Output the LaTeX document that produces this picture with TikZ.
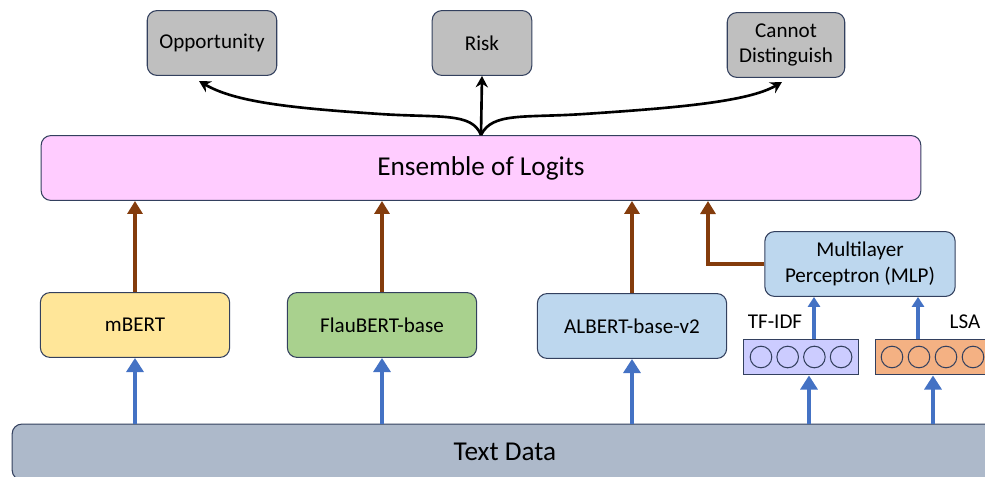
\documentclass[tikz,border=0pt]{standalone}
\usepackage{fontspec}
\setmainfont{Carlito}
\usetikzlibrary{arrows.meta}
\definecolor{boxline}{HTML}{33405E}
\definecolor{outgray}{HTML}{BFBFBF}
\definecolor{enspink}{HTML}{FFCCFF}
\definecolor{bertyellow}{HTML}{FFE699}
\definecolor{flaugreen}{HTML}{A9D18E}
\definecolor{albertblue}{HTML}{BDD7EE}
\definecolor{tfidfviolet}{HTML}{CCCCFF}
\definecolor{lsaorange}{HTML}{F4B183}
\definecolor{textgray}{HTML}{ADB9CA}
\definecolor{logitbrown}{HTML}{843C0C}
\definecolor{feedblue}{HTML}{4472C4}
\begin{document}
\begin{tikzpicture}[x=0.02cm, y=-0.02cm,
                every node/.style = {draw=boxline, line width=0.6pt, rounded corners=5.5pt,
                    align=center, inner sep=0pt, font=\fontsize{12}{14.5}\selectfont},
                outbox/.style = {fill=outgray, minimum height=36.9pt},
                modelbox/.style = {minimum width=107.7pt, minimum height=36.9pt},
                bigbox/.style = {minimum height=36.9pt, font=\fontsize{15.5}{18}\selectfont},
                vecbox/.style = {rounded corners=0pt, minimum width=65.8pt, minimum height=20.4pt},
                unit/.style = {circle, rounded corners=0pt, minimum size=12.3pt},
                tag/.style = {draw=none},
                vote/.style = {draw=black, line width=1.5pt, -{Stealth[length=6.5pt, width=7pt]}},
                logit/.style = {draw=logitbrown, line width=2.3pt, -{Triangle[length=7.4pt, width=8.5pt]}},
                feed/.style = {draw=feedblue, line width=2.8pt, -{Triangle[length=8pt, width=9.6pt]}},
                thinfeed/.style = {draw=feedblue, line width=1.8pt, -{Triangle[length=5.6pt, width=6.8pt]}}
            ]
            \clip (0,0) rectangle (985,477);
            \useasboundingbox (0,0) rectangle (985,477);

            % outputs
            \node[outbox, minimum width=73.7pt] (opp) at (212,43) {Opportunity};
            \node[outbox, minimum width=56.7pt] (risk) at (482,43) {Risk};
            \node[outbox, minimum width=66.9pt] (cannot) at (786,45) {Cannot\\Distinguish};

            % ensemble
            \node[bigbox, fill=enspink, minimum width=500.7pt] (ens) at (481,168) {Ensemble of Logits};

            % models
            \node[modelbox, fill=bertyellow] (mbert) at (135,325) {mBERT};
            \node[modelbox, fill=flaugreen] (flau) at (382,325) {FlauBERT-base};
            \node[modelbox, fill=albertblue] (albert) at (632,326) {ALBERT-base-v2};
            \node[modelbox, fill=albertblue, minimum width=108.3pt] (mlp) at (860,264) {Multilayer\\Perceptron (MLP)};

            % feature vectors
            \node[vecbox, fill=tfidfviolet] (tfidf) at (801,357) {};
            \node[vecbox, fill=lsaorange] (lsa) at (933,357) {};
            \foreach \i in {0,...,3} {
                \node[unit] (tu\i) at (761+26.7*\i,357) {};
                \node[unit] (lu\i) at (892+27*\i,357) {};
            }
            \node[tag] (tfidftag) at (775,322) {TF-IDF};
            \node[tag] (lsatag) at (965,322) {LSA};

            % input
            \node[bigbox, fill=textgray, minimum width=561pt, minimum height=31.8pt] (text) at (505,452) {Text Data};

            % connector ends
            \coordinate (oppin) at (199,81);
            \coordinate (cannotin) at (782,82);
            \coordinate (mlpin) at (708,201);
            \coordinate (tfbot) at (809,424);
            \coordinate (lsabot) at (933,424);
            \coordinate (tftop) at (814,339);
            \coordinate (lsatop) at (918,339);

            % votes
            \draw[vote] (ens.north) -- (risk.south);
            \draw[vote] (ens.north) .. controls (472,112) and (440,118) .. (380,114)
                .. controls (290,108) and (235,102) .. (oppin);
            \draw[vote] (ens.north) .. controls (492,112) and (524,118) .. (584,114)
                .. controls (674,108) and (748,102) .. (cannotin);

            % logits
            \draw[logit] (mbert.north) -- (mbert.north |- ens.south);
            \draw[logit] (flau.north) -- (flau.north |- ens.south);
            \draw[logit] (albert.north) -- (albert.north |- ens.south);
            \draw[logit] (mlp.west) -| (mlpin);

            % inputs
            \draw[feed] (text.north -| mbert.south) -- (mbert.south);
            \draw[feed] (text.north -| flau.south) -- (flau.south);
            \draw[feed] (text.north -| albert.south) -- (albert.south);
            \draw[feed] (tfbot) -- (tfbot |- tfidf.south);
            \draw[feed] (lsabot) -- (lsabot |- lsa.south);
            \draw[thinfeed] (tftop) -- (tftop |- mlp.south);
            \draw[thinfeed] (lsatop) -- (lsatop |- mlp.south);
        \end{tikzpicture}
\end{document}
